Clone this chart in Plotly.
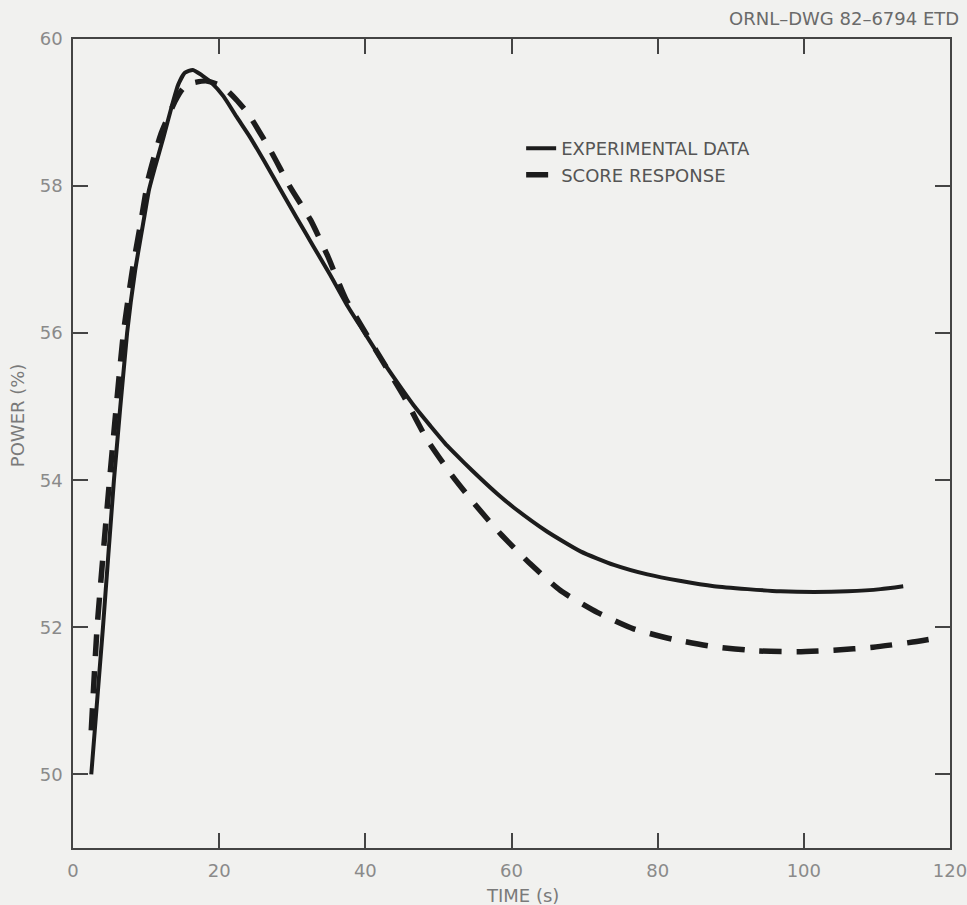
import plotly.graph_objects as go

# ---- data ----
exp_time = [2.5, 4.1, 5.6, 7.4, 8.5, 9.7, 10.4, 11.2, 12.4, 13.5, 14.4, 15.3, 16.4, 17.6,
            19.0, 20.6, 22.4, 24.2, 26.1, 28.4, 30.6, 32.9, 35.2, 37.5, 39.8, 42.1, 44.3,
            46.6, 48.9, 51.2, 53.5, 55.8, 58.0, 60.3, 64.9, 69.5, 74.0, 78.6, 83.2, 87.7,
            92.3, 96.8, 101.4, 106.0, 110.5, 113.6]
exp_power = [50.0, 52.0, 54.0, 56.0, 56.85, 57.55, 57.95, 58.25, 58.67, 59.08, 59.38, 59.54, 59.58, 59.51,
             59.4, 59.22, 58.94, 58.67, 58.35, 57.95, 57.57, 57.18, 56.79, 56.38, 56.02, 55.66, 55.34,
             55.02, 54.74, 54.47, 54.24, 54.02, 53.82, 53.63, 53.3, 53.03, 52.85, 52.72, 52.63, 52.56,
             52.52, 52.49, 52.48, 52.49, 52.52, 52.56]

score_time = [2.5, 3.3, 5.0, 6.9, 8.1, 9.3, 10.3, 12.0, 14.0, 15.0, 16.3, 18.3, 20.5, 22.3,
              24.0, 27.1, 29.7, 32.5, 34.8, 37.3, 41.5, 45.5, 48.4, 51.9, 55.1, 58.5, 62.6,
              66.7, 71.8, 76.7, 82.0, 87.5, 93.7, 99.2, 104.1, 109.5, 114.9, 118.0]
score_power = [50.6, 52.0, 54.0, 56.0, 56.84, 57.52, 58.1, 58.7, 59.16, 59.32, 59.4, 59.43, 59.35, 59.18,
               58.98, 58.47, 57.99, 57.54, 57.06, 56.47, 55.76, 55.1, 54.56, 54.06, 53.66, 53.27, 52.86,
               52.5, 52.2, 51.98, 51.84, 51.74, 51.68, 51.67, 51.69, 51.73, 51.8, 51.85]

x_ticks = [0, 20, 40, 60, 80, 100, 120]
y_ticks = [50, 52, 54, 56, 58, 60]

series_names = ["EXPERIMENTAL DATA", "SCORE RESPONSE"]
drawing_id = "ORNL\u2013DWG 82\u20136794 ETD"
x_title = "TIME (s)"
y_title = "POWER (%)"

FONT = "DejaVu Sans"
BG = "#f1f1ef"
INK = "#1c1c1c"

fig = go.Figure()
fig.add_trace(go.Scatter(
    x=exp_time, y=exp_power, mode="lines", name=series_names[0],
    line=dict(color=INK, width=4, shape="spline", smoothing=0.5),
))
fig.add_trace(go.Scatter(
    x=score_time, y=score_power, mode="lines", name=series_names[1],
    line=dict(color=INK, width=5.5, dash="22px,15px", shape="spline", smoothing=0.5),
))

axis_common = dict(
    showgrid=False, zeroline=False, showline=True, linecolor="#444444", linewidth=1.5,
    mirror="ticks", ticks="inside", ticklen=15, tickwidth=1.5, tickcolor="#444444",
    tickfont=dict(family=FONT, size=18, color="#8a8a8a"), ticklabeloverflow="allow",
    automargin=False,
)

fig.update_layout(
    width=967, height=905,
    margin=dict(l=73, r=17, t=39, b=57),
    paper_bgcolor=BG, plot_bgcolor=BG,
    font=dict(family=FONT, color="#666666"),
    showlegend=True,
    legend=dict(
        x=0.511, y=0.8874, xanchor="left", yanchor="top",
        bgcolor="rgba(0,0,0,0)", font=dict(family=FONT, size=18, color="#555555"),
        tracegroupgap=0, itemwidth=30,
    ),
    xaxis=dict(range=[0, 120], tickvals=x_ticks, ticklabelstandoff=6, **axis_common),
    yaxis=dict(range=[49, 60], tickvals=y_ticks, ticklabelstandoff=5, **axis_common),
)

fig.add_annotation(text=drawing_id, xref="paper", yref="paper", x=1.0194, y=1.0,
                   xanchor="right", yanchor="middle", yshift=21, xshift=-6, showarrow=False,
                   font=dict(family=FONT, size=18, color="#6a6a6a"))
fig.add_annotation(text=x_title, xref="paper", yref="paper", x=0.512, y=0,
                   xanchor="center", yanchor="middle", yshift=-47, showarrow=False,
                   font=dict(family=FONT, size=18, color="#7a7a7a"))
fig.add_annotation(text=y_title, xref="paper", yref="paper", x=0, y=0.535,
                   xanchor="center", yanchor="middle", xshift=-56, textangle=-90,
                   showarrow=False, font=dict(family=FONT, size=18, color="#7a7a7a"))

# remove the page's default body margin so the figure fills the window exactly
fig.write_html(
    "out.html",
    config={"displayModeBar": False},
    post_script="document.body.style.margin='0';"
                "document.body.style.overflow='hidden';"
                "document.documentElement.style.overflow='hidden';",
)
